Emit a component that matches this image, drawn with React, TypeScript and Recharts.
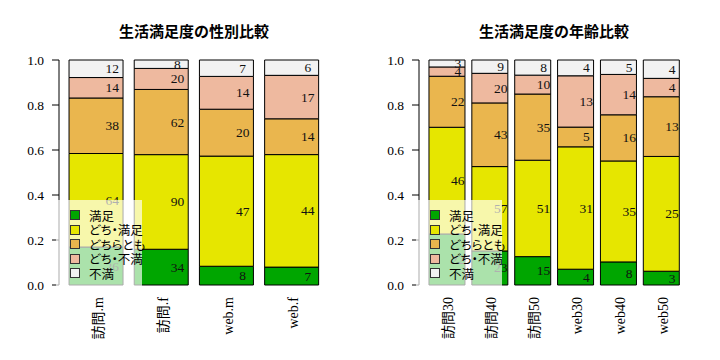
import React from "react";
import { BarChart, Bar, XAxis, YAxis, LabelList } from "recharts";

// 回答カテゴリ (下から順に積み上げ)
const levels = ["満足", "どち・満足", "どちらとも", "どち・不満", "不満"];
const levelColors = ["#00A600", "#E6E600", "#EAB64E", "#EEB99F", "#F2F2F2"];

// 性別比較
const sexGroups = ["訪問.m", "訪問.f", "web.m", "web.f"];
const sexManzoku = [26, 34, 8, 7];
const sexDochiManzoku = [64, 90, 47, 44];
const sexDochira = [38, 62, 20, 14];
const sexDochiFuman = [14, 20, 14, 17];
const sexFuman = [12, 8, 7, 6];

// 年齢比較
const ageGroups = ["訪問30", "訪問40", "訪問50", "web30", "web40", "web50"];
const ageManzoku = [22, 23, 15, 4, 8, 3];
const ageDochiManzoku = [46, 57, 51, 31, 35, 25];
const ageDochira = [22, 43, 35, 5, 16, 13];
const ageDochiFuman = [4, 20, 10, 13, 14, 4];
const ageFuman = [3, 9, 8, 4, 5, 4];

const yTicks = [0, 0.2, 0.4, 0.6, 0.8, 1.0];

const SERIF = "'Liberation Serif', 'Noto Sans CJK JP', serif";
const CJK = "'Noto Sans CJK JP', sans-serif";

function buildRows(groups: string[], series: number[][]) {
  return groups.map((name, i) => {
    const total = series.reduce((s, arr) => s + arr[i], 0);
    const row: Record<string, string | number> = { name };
    series.forEach((arr, k) => {
      row[`s${k}`] = arr[i] / total;
      row[`c${k}`] = arr[i];
    });
    return row;
  });
}

const sexRows = buildRows(sexGroups, [sexManzoku, sexDochiManzoku, sexDochira, sexDochiFuman, sexFuman]);
const ageRows = buildRows(ageGroups, [ageManzoku, ageDochiManzoku, ageDochira, ageDochiFuman, ageFuman]);

const SegLabel = (props: any) => {
  const { x, y, width, height, value } = props;
  return (
    <text
      x={x + width * 0.8}
      y={y + height / 2}
      textAnchor="middle"
      dominantBaseline="central"
      fontSize={13.5}
      fontFamily={SERIF}
      fill="#111"
    >
      {value}
    </text>
  );
};

const GroupTick = (props: any) => {
  const { x, y, payload } = props;
  return (
    <text
      transform={`translate(${x + 2},${y + 12}) rotate(-90)`}
      textAnchor="end"
      dominantBaseline="central"
      fontSize={14}
      fontFamily={SERIF}
      fill="#000"
    >
      {payload.value}
    </text>
  );
};

function LegendBox() {
  return (
    <div
      style={{
        position: "absolute",
        left: 56,
        top: 200,
        width: 86,
        height: 86,
        background: "rgba(255,255,255,0.67)",
      }}
    >
      {levels.map((lv, i) => (
        <div
          key={lv}
          style={{
            position: "absolute",
            left: 14,
            top: 15 + i * 14.5 - 7,
            height: 14,
            display: "flex",
            alignItems: "center",
            whiteSpace: "nowrap",
          }}
        >
          <span
            style={{
              width: 8,
              height: 8,
              background: levelColors[i],
              border: "1px solid #333",
              display: "inline-block",
            }}
          />
          <span
            style={{
              marginLeft: 9,
              fontFamily: CJK,
              fontSize: 12.5,
              fontFeatureSettings: '"palt"',
              color: "#000",
            }}
          >
            {lv}
          </span>
        </div>
      ))}
    </div>
  );
}

function Panel({ title, rows, pad }: { title: string; rows: any[]; pad: number }) {
  return (
    <div style={{ position: "relative", width: 360, height: 360 }}>
      <div
        style={{
          position: "absolute",
          left: 59,
          width: 270,
          top: 20,
          textAlign: "center",
          fontFamily: CJK,
          fontWeight: 700,
          fontSize: 15,
          color: "#000",
        }}
      >
        {title}
      </div>
      <BarChart
        width={360}
        height={360}
        data={rows}
        margin={{ top: 60, right: 31, bottom: 0, left: 0 }}
        barCategoryGap="8.333%"
      >
        <XAxis
          dataKey="name"
          axisLine={false}
          tickLine={false}
          tickSize={0}
          tickMargin={0}
          height={75}
          interval={0}
          padding={{ left: pad, right: pad }}
          tick={<GroupTick />}
        />
        <YAxis
          type="number"
          domain={[0, 1]}
          ticks={yTicks}
          width={59}
          tickSize={7}
          tickMargin={8}
          axisLine={{ stroke: "#000" }}
          tickLine={{ stroke: "#000" }}
          tickFormatter={(v: number) => v.toFixed(1)}
          tick={{ fill: "#000", fontSize: 13.5, fontFamily: SERIF }}
        />
        {levels.map((lv, k) => (
          <Bar
            key={lv}
            dataKey={`s${k}`}
            name={lv}
            stackId="a"
            fill={levelColors[k]}
            stroke="#000"
            strokeWidth={1}
            isAnimationActive={false}
          >
            <LabelList dataKey={`c${k}`} content={<SegLabel />} />
          </Bar>
        ))}
      </BarChart>
      <LegendBox />
    </div>
  );
}

export default function App() {
  return (
    <div style={{ position: "absolute", left: 0, top: 0, width: 720, height: 360, background: "#fff", display: "flex" }}>
      <Panel title="生活満足度の性別比較" rows={sexRows} pad={4.6} />
      <Panel title="生活満足度の年齢比較" rows={ageRows} pad={6.4} />
    </div>
  );
}
